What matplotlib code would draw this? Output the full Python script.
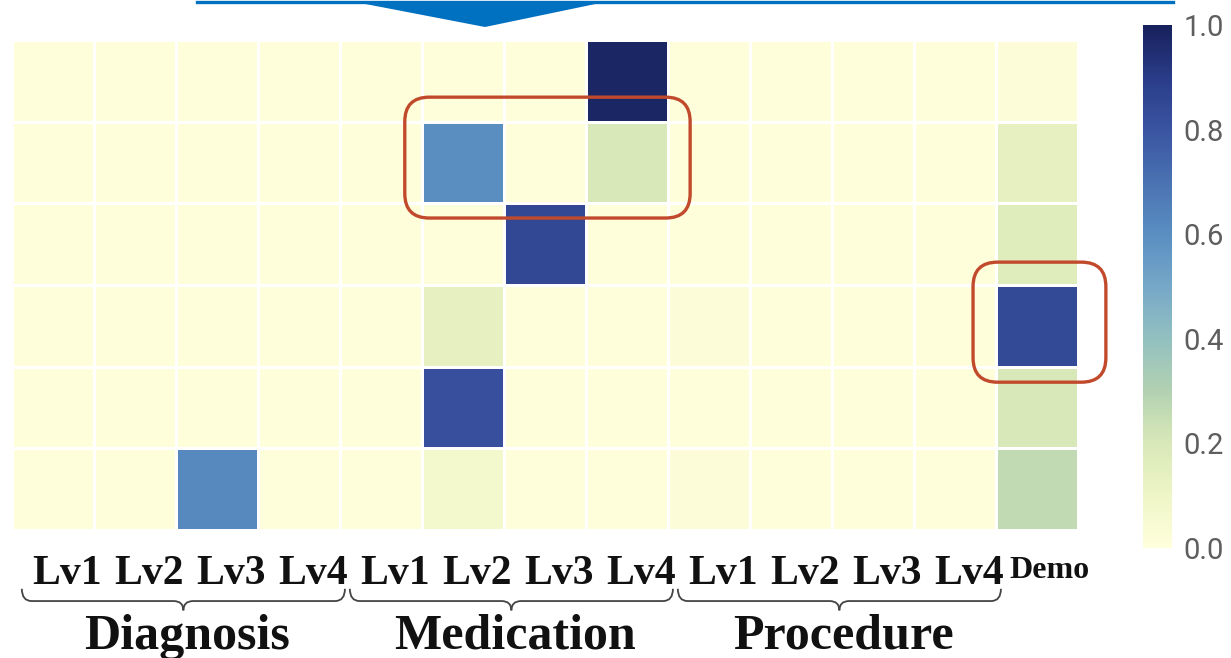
import numpy as np
import matplotlib
matplotlib.use("Agg")
import matplotlib.pyplot as plt
from matplotlib.colors import LinearSegmentedColormap
from matplotlib.patches import FancyBboxPatch, Polygon, PathPatch
from matplotlib.path import Path
from matplotlib.lines import Line2D
import matplotlib.transforms as mtransforms

# ---- data -------------------------------------------------------------
groups = ["Diagnosis", "Medication", "Procedure"]
levels = ["Lv1", "Lv2", "Lv3", "Lv4"]
extra_column = "Demo"

# attention weights, one row per head (top to bottom), 13 feature columns
row_1 = [0.01, 0.01, 0.01, 0.01, 0.01, 0.01, 0.01, 0.98, 0.01, 0.01, 0.01, 0.01, 0.02]
row_2 = [0.01, 0.01, 0.01, 0.01, 0.01, 0.60, 0.01, 0.20, 0.01, 0.01, 0.01, 0.01, 0.14]
row_3 = [0.01, 0.01, 0.01, 0.01, 0.01, 0.01, 0.85, 0.01, 0.01, 0.01, 0.01, 0.01, 0.17]
row_4 = [0.01, 0.01, 0.01, 0.01, 0.01, 0.14, 0.01, 0.01, 0.02, 0.01, 0.01, 0.01, 0.84]
row_5 = [0.01, 0.01, 0.01, 0.01, 0.01, 0.82, 0.01, 0.01, 0.01, 0.01, 0.01, 0.01, 0.20]
row_6 = [0.01, 0.01, 0.62, 0.01, 0.01, 0.07, 0.01, 0.01, 0.02, 0.01, 0.01, 0.01, 0.26]

cbar_ticks = [0.0, 0.2, 0.4, 0.6, 0.8, 1.0]

values = np.array([row_1, row_2, row_3, row_4, row_5, row_6])
n_rows, n_cols = values.shape

# ---- style ------------------------------------------------------------
cmap = LinearSegmentedColormap.from_list(
    "attn",
    ["#ffffdc", "#eef5c6", "#d8e8b8", "#b2d1b2", "#92c0c0", "#76a8c8",
     "#5a8ec1", "#4a72b2", "#3a54a2", "#2a3c88", "#17215c"],
)
RED = "#c24a2c"
BLUE = "#0070c0"
W, H = 1231, 658

fig = plt.figure(figsize=(W / 100, H / 100), dpi=100)
fig.patch.set_facecolor("white")


def fpx(x, y):
    """pixel position (origin top-left) -> figure fraction"""
    return x / W, 1 - y / H


ax = fig.add_axes([12 / W, 1 - 530 / H, 1066 / W, 490 / H])
mesh = ax.pcolormesh(values, cmap=cmap, vmin=0, vmax=1,
                     edgecolors="white", linewidth=2.0)
ax.set_xlim(0, n_cols)
ax.set_ylim(n_rows, 0)
ax.set_xticks([])
ax.set_yticks([])
for s in ax.spines.values():
    s.set_visible(False)

# ---- colorbar ---------------------------------------------------------
cax = fig.add_axes([1143 / W, 1 - 548 / H, 29 / W, 523 / H])
cb = fig.colorbar(mesh, cax=cax, ticks=cbar_ticks)
cb.outline.set_visible(False)
cax.tick_params(length=0, pad=8, labelsize=21, labelcolor="#5e5e5e")
cb.ax.set_yticklabels([f"{v:.1f}" for v in cbar_ticks])
for t in cax.get_yticklabels():
    t.set_fontfamily("Roboto")

# ---- column labels, braces and group names ----------------------------
blend = mtransforms.blended_transform_factory(ax.transData, ax.transAxes)
serif = "Liberation Serif"

col = 0
for g in groups:
    start = col
    for lv in levels:
        ax.text(col + 0.5 + 0.17, -0.09, lv, transform=blend, ha="center",
                va="center", fontsize=30, fontweight="bold", family=serif,
                color="#111111", clip_on=False)
        col += 1
    end = col
    x0, x1 = start + 0.12, end + 0.06
    xm = (x0 + x1) / 2
    yt, yl, yb = -0.12, -0.145, -0.164
    dx = 0.12
    verts = [(x0, yt), (x0, yl), (x0 + dx, yl),
             (xm - dx, yl), (xm, yl), (xm, yb),
             (xm, yl), (xm + dx, yl),
             (x1 - dx, yl), (x1, yl), (x1, yt)]
    codes = [Path.MOVETO, Path.CURVE3, Path.CURVE3,
             Path.LINETO, Path.CURVE3, Path.CURVE3,
             Path.CURVE3, Path.CURVE3,
             Path.LINETO, Path.CURVE3, Path.CURVE3]
    ax.add_patch(PathPatch(Path(verts, codes), transform=blend, fill=False,
                           edgecolor="#444444", linewidth=1.3, clip_on=False))
    ax.text(xm + 0.05, -0.218, g, transform=blend, ha="center", va="center",
            fontsize=36, fontweight="bold", family=serif, color="#111111",
            clip_on=False)

ax.text(col + 0.5 + 0.15, -0.083, extra_column, transform=blend, ha="center",
        va="center", fontsize=23, fontweight="bold", family=serif,
        color="#111111", clip_on=False)

# ---- highlight boxes --------------------------------------------------
for (bx0, by0, bx1, by1) in [(4.79, 0.70, 8.27, 2.18), (11.72, 2.72, 13.34, 4.19)]:
    ax.add_patch(FancyBboxPatch((bx0, by0), bx1 - bx0, by1 - by0,
                                boxstyle="round,pad=0,rounding_size=0.3",
                                transform=ax.transData, fill=False,
                                edgecolor=RED, linewidth=2.4, clip_on=False,
                                zorder=5))

# ---- top banner arrow -------------------------------------------------
fig.add_artist(Line2D([fpx(197, 0)[0], fpx(1173, 0)[0]],
                      [fpx(0, 1.5)[1]] * 2, color=BLUE, linewidth=2.4,
                      transform=fig.transFigure))
fig.add_artist(Polygon([fpx(355, 2), fpx(605, 2), fpx(485, 27)],
                       closed=True, facecolor=BLUE, edgecolor="none",
                       transform=fig.transFigure))

fig.savefig("out.png", dpi=100, facecolor="white")
